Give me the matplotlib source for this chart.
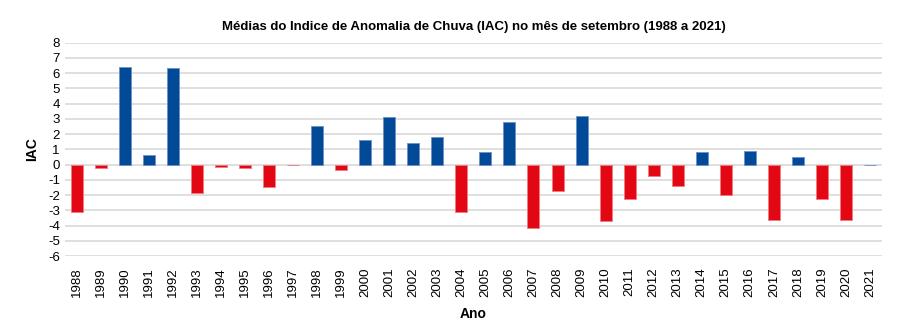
import matplotlib
matplotlib.use('Agg')
import matplotlib.pyplot as plt

plt.rcParams['font.family'] = ['Liberation Sans', 'DejaVu Sans']

# IAC for september, per year
anos = list(range(1988, 2022))
iac = [-3.1, -0.2, 6.4, 0.6, 6.35, -1.88, -0.13, -0.22, -1.5, -0.05,
       2.5, -0.33, 1.62, 3.1, 1.4, 1.8, -3.12, 0.8, 2.8, -4.15,
       -1.73, 3.17, -3.72, -2.25, -0.72, -1.42, 0.8, -1.99, 0.87, -3.65,
       0.5, -2.28, -3.65, 0.0]
yticks = list(range(-6, 9))

azul = '#004A98'
vermelho = '#E30613'

fig = plt.figure(figsize=(9, 3.25), dpi=100)
ax = fig.add_axes([0.072, 0.212, 0.908, 0.657])

cores = [azul if v >= 0 else vermelho for v in iac]
bordas = ['#6E8FC4' if v >= 0 else '#F07A80' for v in iac]
x = range(len(anos))
ax.bar(x, iac, width=0.5, color=cores, edgecolor=bordas, linewidth=0.6, zorder=3)

ax.set_xlim(-0.5, len(anos) - 0.5)
ax.set_ylim(-6, 8)
ax.set_yticks(yticks)
ax.set_yticklabels([str(t) for t in yticks], fontsize=9.5)
ax.set_xticks(list(x))
ax.set_xticklabels([str(a) for a in anos], rotation=90, fontsize=9.5)
ax.tick_params(axis='both', length=0)
ax.tick_params(axis='x', pad=8)
ax.grid(axis='y', color='#D9D9D9', linewidth=1.2, zorder=0)
for s in ax.spines.values():
    s.set_visible(False)

ax.set_title('Médias do Indice de Anomalia de Chuva (IAC) no mês de setembro (1988 a 2021)',
             fontsize=9.5, fontweight='bold', pad=9)
ax.set_xlabel('Ano', fontsize=10, fontweight='bold', labelpad=7)
ax.set_ylabel('IAC', fontsize=10, fontweight='bold', labelpad=6)

fig.savefig('out.png', dpi=100)
